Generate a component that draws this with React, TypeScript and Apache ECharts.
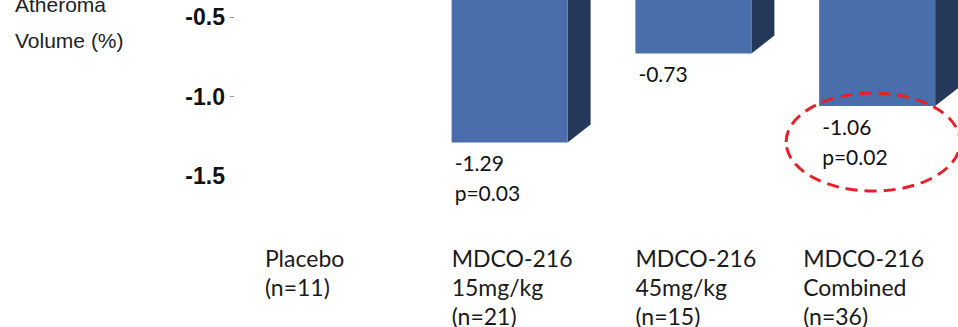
import React, { useEffect, useRef } from "react";
import * as echarts from "echarts";

// Change in percent atheroma volume by treatment group
const categories = [
  "Placebo\n(n=11)",
  "MDCO-216\n15mg/kg\n(n=21)",
  "MDCO-216\n45mg/kg\n(n=15)",
  "MDCO-216\nCombined\n(n=36)",
];
const changePAV = [0.14, -1.29, -0.73, -1.06];
const pValues: (string | null)[] = [null, "0.03", null, "0.02"];
const yTickValues = [0.5, 0, -0.5, -1.0, -1.5];
const yTickMarks = [0.5, 0, -0.5, -1.0];
const axisTitle = "Change in\nPercent\nAtheroma\nVolume (%)";
const highlightIndex = 3;

// layout / style
const TOP_SHIFT = 200; // the chart's upper part sits above the page
const WIDTH = 958;
const HEIGHT = 327 + TOP_SHIFT;
const FRONT = "#4a6eab";
const SIDE = "#26385a";
const TOP_FACE = "#7391c8";
const BAR_W = 116;
const DEPTH_X = 23;
const DEPTH_Y = 18;
const catLabelShift = [-61, -58, -58, -74];

export default function App() {
  const ref = useRef<HTMLDivElement>(null);

  useEffect(() => {
    if (!ref.current) return;
    const chart = echarts.init(ref.current, null, { renderer: "svg" });

    const half = BAR_W / 2;
    const option: any = {
      animation: false,
      grid: {
        left: 234,
        top: 58,
        width: 735,
        height: 318,
        outerBoundsMode: "none",
        containLabel: false,
      },
      xAxis: {
        type: "category",
        data: categories,
        axisLine: { show: false },
        axisTick: { show: false },
        axisLabel: { show: false },
      },
      yAxis: {
        type: "value",
        min: -1.5,
        max: 0.5,
        interval: 0.5,
        axisLine: { show: false },
        splitLine: { show: false },
        axisTick: {
          show: true,
          length: 4,
          customValues: yTickMarks,
          lineStyle: { color: "#9a9a9a", width: 1 },
        },
        axisLabel: {
          customValues: yTickValues,
          formatter: (v: number) => v.toFixed(1),
          fontFamily: "Liberation Sans",
          fontWeight: "bold",
          fontSize: 23,
          color: "#111",
          margin: 9,
        },
      },
      series: [
        {
          type: "custom",
          silent: true,
          z: 2,
          data: changePAV.map((v, i) => [i, v]),
          renderItem: (params: any, api: any) => {
            const i = api.value(0);
            const v = api.value(1);
            const base = api.coord([i, 0]);
            const end = api.coord([i, v]);
            const xl = base[0] - half;
            const xr = base[0] + half;
            const yTop = Math.min(base[1], end[1]);
            return {
              type: "group",
              children: [
                {
                  type: "polygon",
                  shape: {
                    points: [
                      [xr, base[1]],
                      [xr + DEPTH_X, base[1] - DEPTH_Y],
                      [xr + DEPTH_X, end[1] - DEPTH_Y],
                      [xr, end[1]],
                    ],
                  },
                  style: { fill: SIDE },
                },
                {
                  type: "polygon",
                  shape: {
                    points: [
                      [xl, yTop],
                      [xl + DEPTH_X, yTop - DEPTH_Y],
                      [xr + DEPTH_X, yTop - DEPTH_Y],
                      [xr, yTop],
                    ],
                  },
                  style: { fill: TOP_FACE },
                },
              ],
            };
          },
        },
        {
          type: "bar",
          silent: true,
          z: 3,
          barWidth: BAR_W,
          itemStyle: { color: FRONT },
          data: changePAV.map((v) => ({
            value: v,
            label: { position: v < 0 ? "bottom" : "top" },
          })),
          label: {
            show: true,
            align: "left",
            offset: [-55, 0],
            distance: 5,
            lineHeight: 30,
            fontFamily: "Lato",
            fontSize: 21,
            color: "#111",
            formatter: (p: any) => {
              const v = changePAV[p.dataIndex];
              const txt = (v > 0 ? "+" : "") + v.toFixed(2);
              const pv = pValues[p.dataIndex];
              return pv ? `${txt}\np=${pv}` : txt;
            },
          },
        },
      ],
    };
    chart.setOption(option);

    // category labels and the highlight ring follow the axis positions
    const centers = categories.map(
      (_, i) => (chart.convertToPixel({ gridIndex: 0 }, [i, 0]) as number[])[0]
    );
    const hl = chart.convertToPixel({ gridIndex: 0 }, [
      highlightIndex,
      changePAV[highlightIndex],
    ]) as number[];

    chart.setOption({
      graphic: [
        {
          type: "text",
          x: 15,
          y: 258,
          silent: true,
          style: {
            text: axisTitle,
            fontFamily: "Liberation Sans",
            fontSize: 21,
            lineHeight: 36,
            fill: "#222",
            verticalAlign: "bottom",
          },
        },
        ...categories.map((c, i) => ({
          type: "text",
          x: centers[i] + catLabelShift[i],
          y: 443,
          silent: true,
          style: {
            text: c,
            fontFamily: "Lato",
            fontSize: 23,
            lineHeight: 29,
            fill: "#1a1a1a",
            verticalAlign: "top",
          },
        })),
        {
          type: "ellipse",
          silent: true,
          z: 100,
          shape: { cx: hl[0] - 4, cy: hl[1] + 36, rx: 87, ry: 49 },
          style: {
            fill: "none",
            stroke: "#e3212b",
            lineWidth: 3,
            lineDash: [12, 7],
          },
        },
      ],
    });

    return () => chart.dispose();
  }, []);

  return (
    <div
      ref={ref}
      style={{
        position: "absolute",
        left: 0,
        top: -TOP_SHIFT,
        width: WIDTH,
        height: HEIGHT,
      }}
    />
  );
}
